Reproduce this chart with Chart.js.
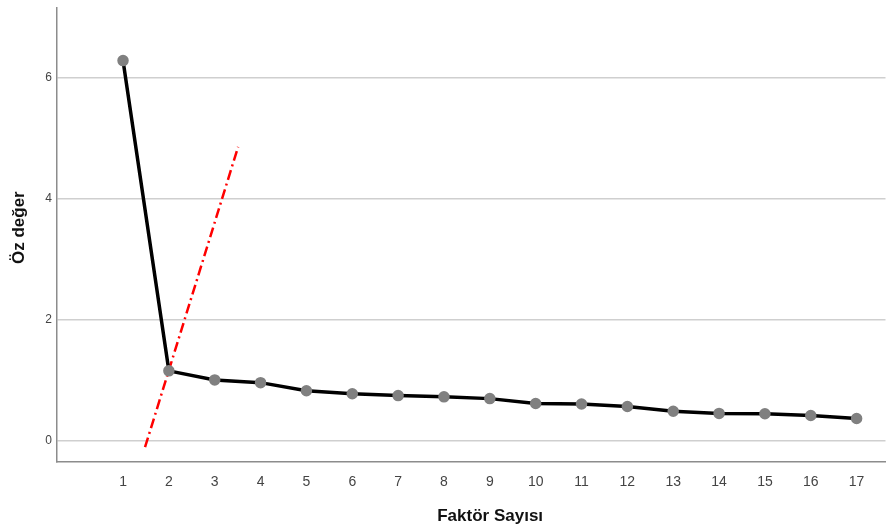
<!DOCTYPE html>
<html>
<head>
<meta charset="utf-8">
<script src="https://cdn.jsdelivr.net/npm/chart.js@4"></script>
<style>
  body { margin: 0; background: #fff; }
  #wrap { width: 888px; height: 530px; overflow: hidden; }
</style>
</head>
<body>
<div id="wrap"><canvas id="scree" width="893" height="530"></canvas></div>
<script>
// Scree plot data
const factors = [1, 2, 3, 4, 5, 6, 7, 8, 9, 10, 11, 12, 13, 14, 15, 16, 17];
const eigenvalues = [6.29, 1.15, 1.00, 0.955, 0.82, 0.77, 0.74, 0.72, 0.69, 0.61, 0.60, 0.56, 0.48, 0.445, 0.44, 0.41, 0.36];
const yTicks = [0, 2, 4, 6];
// red dash-dot elbow line (start / end in data units)
const elbowX = [1.48, 3.51];
const elbowY = [-0.115, 4.86];

const ctx = document.getElementById('scree').getContext('2d');
const screeChart = new Chart(ctx, {
    type: 'scatter',
    data: {
        datasets: [{
            label: 'Öz değer',
            data: factors.map((f, i) => ({ x: f, y: eigenvalues[i] })),
            showLine: true,
            borderColor: '#000',
            borderWidth: 3.5,
            pointBackgroundColor: '#808080',
            pointBorderColor: '#808080',
            pointRadius: 4,
            order: 1
        }, {
            label: 'elbow',
            data: elbowX.map((x, i) => ({ x: x, y: elbowY[i] })),
            showLine: true,
            borderColor: '#ff0000',
            borderWidth: 2.5,
            borderDash: [10, 4, 2, 4],
            pointRadius: 0,
            order: 2
        }]
    },
    options: {
        responsive: false,
        animation: false,
        layout: { padding: { top: 5, right: 0, left: 0, bottom: 0 } },
        plugins: {
            legend: { display: false },
            tooltip: { enabled: false }
        },
        scales: {
            x: {
                type: 'linear',
                min: -0.44,
                max: 17.63,
                afterBuildTicks: function(scale) {
                    scale.ticks = factors.map(v => ({ value: v }));
                },
                afterFit: function(scale) {
                    scale.height = 68;
                    scale.paddingLeft = 0;
                    scale.paddingRight = 0;
                },
                grid: { display: false, drawTicks: false },
                border: { display: true, color: '#8c8c8c', width: 1.5 },
                ticks: {
                    color: '#444',
                    font: { family: 'Liberation Sans', size: 14 },
                    padding: 12,
                    maxRotation: 0,
                    autoSkip: false
                },
                title: {
                    display: true,
                    // leading spaces nudge the title right like the original
                    text: '        Faktör Sayısı',
                    color: '#111',
                    font: { family: 'Liberation Sans', size: 17, weight: 'bold' },
                    padding: { top: 0, bottom: 3 }
                }
            },
            y: {
                type: 'linear',
                min: -0.36,
                max: 7.17,
                afterBuildTicks: function(scale) {
                    scale.ticks = yTicks.map(v => ({ value: v }));
                },
                afterFit: function(scale) {
                    scale.width = 57;
                    scale.paddingTop = 0;
                    scale.paddingBottom = 0;
                },
                grid: { color: '#cfcfcf', lineWidth: 1.5, drawTicks: false },
                border: { display: true, color: '#8c8c8c', width: 1.5 },
                ticks: {
                    color: '#444',
                    font: { family: 'Liberation Sans', size: 12 },
                    padding: 5
                },
                title: {
                    display: true,
                    text: '   Öz değer',
                    color: '#111',
                    font: { family: 'Liberation Sans', size: 17, weight: 'bold' },
                    padding: { top: 9, bottom: 0 }
                }
            }
        }
    }
});
</script>
</body>
</html>
